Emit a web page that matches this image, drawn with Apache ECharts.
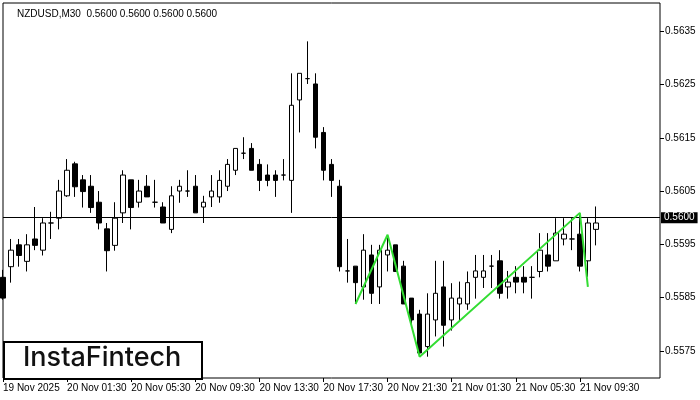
<!DOCTYPE html>
<html>
<head>
<meta charset="utf-8">
<script src="https://cdn.jsdelivr.net/npm/echarts@6/dist/echarts.min.js"></script>
<style>html,body{margin:0;padding:0;background:#fff;}#c{width:700px;height:400px;}</style>
</head>
<body>
<div id="c"></div>
<script>
// 30-minute bars starting 19 Nov 21:30
const opens  = [0.55888,0.55908,0.55949,0.55918,0.55960,0.55939,0.55990,0.55999,0.56041,0.56101,
                0.56071,0.56059,0.56029,0.55979,0.55948,0.56009,0.56071,0.56029,0.56059,0.56029,
                0.56020,0.55978,0.56050,0.56050,0.56059,0.56020,0.56039,0.56039,0.56059,0.56089,
                0.56121,0.56130,0.56100,0.56080,0.56080,0.56080,0.56070,0.56221,0.56261,0.56251,
                0.56160,0.56100,0.56059,0.55900,0.55909,0.55870,0.55930,0.55870,0.55930,0.55949,
                0.55909,0.55849,0.55819,0.55758,0.55808,0.55870,0.55808,0.55838,0.55838,0.55888,
                0.55888,0.55909,0.55919,0.55870,0.55888,0.55888,0.55888,0.55899,0.55930,0.55919,
                0.55960,0.55960,0.55969,0.55919,0.55978];
const closes = [0.55849,0.55939,0.55929,0.55949,0.55948,0.55990,0.55990,0.56050,0.56089,0.56058,
                0.56049,0.56019,0.55990,0.55938,0.55999,0.56080,0.56019,0.56050,0.56039,0.56029,
                0.55990,0.56041,0.56059,0.56050,0.56009,0.56029,0.56050,0.56070,0.56100,0.56130,
                0.56121,0.56089,0.56070,0.56070,0.56070,0.56080,0.56211,0.56271,0.56261,0.56151,
                0.56089,0.56070,0.55908,0.55900,0.55878,0.55939,0.55858,0.55939,0.55939,0.55899,
                0.55838,0.55808,0.55746,0.55819,0.55858,0.55798,0.55849,0.55849,0.55878,0.55900,
                0.55900,0.55909,0.55858,0.55879,0.55879,0.55879,0.55888,0.55939,0.55909,0.55971,
                0.55969,0.55960,0.55909,0.55990,0.55990];
const lows   = [0.55846,0.55878,0.55908,0.55899,0.55939,0.55929,0.55960,0.55978,0.56039,0.56039,
                0.56019,0.56009,0.55978,0.55899,0.55938,0.55990,0.55978,0.56019,0.56039,0.56019,
                0.55990,0.55971,0.56028,0.56039,0.56009,0.55990,0.56020,0.56028,0.56050,0.56080,
                0.56110,0.56089,0.56050,0.56059,0.56039,0.56070,0.56009,0.56160,0.56251,0.56130,
                0.56070,0.56039,0.55899,0.55878,0.55838,0.55846,0.55838,0.55838,0.55899,0.55899,
                0.55838,0.55800,0.55739,0.55739,0.55777,0.55758,0.55788,0.55808,0.55827,0.55848,
                0.55868,0.55868,0.55848,0.55848,0.55858,0.55858,0.55848,0.55888,0.55899,0.55919,
                0.55948,0.55939,0.55899,0.55889,0.55948];
const highs  = [0.55902,0.55960,0.55960,0.55969,0.56020,0.55999,0.56011,0.56071,0.56110,0.56105,
                0.56080,0.56080,0.56050,0.55990,0.56029,0.56089,0.56071,0.56071,0.56080,0.56071,
                0.56029,0.56059,0.56071,0.56089,0.56080,0.56041,0.56080,0.56089,0.56110,0.56130,
                0.56151,0.56140,0.56110,0.56100,0.56089,0.56110,0.56271,0.56271,0.56331,0.56271,
                0.56170,0.56110,0.56071,0.55960,0.55909,0.55969,0.55949,0.55949,0.55966,0.55949,
                0.55919,0.55849,0.55827,0.55858,0.55919,0.55919,0.55877,0.55880,0.55899,0.55930,
                0.55930,0.55930,0.55939,0.55900,0.55909,0.55909,0.55909,0.55971,0.55971,0.55999,
                0.55999,0.55999,0.56008,0.55999,0.56021];
const patternIdx = [44, 48, 52, 72, 73];
const patternVal = [0.55838, 0.55968, 0.55739, 0.56009, 0.55870];
const yTicks = [0.5575, 0.5585, 0.5595, 0.5605, 0.5615, 0.5625, 0.5635];
const tickLabels = ["19 Nov 2025","20 Nov 01:30","20 Nov 05:30","20 Nov 09:30","20 Nov 13:30",
                    "20 Nov 17:30","20 Nov 21:30","21 Nov 01:30","21 Nov 05:30","21 Nov 09:30"];
const currentPrice = 0.5600;
const titleText = "NZDUSD,M30  0.5600 0.5600 0.5600 0.5600";
const slotCount = 83;

const categories = [];
const start = Date.UTC(2025, 10, 19, 21, 30);
for (let i = 0; i < slotCount; i++) {
  const d = new Date(start + i * 30 * 60000);
  const p = n => String(n).padStart(2, '0');
  categories.push(d.getUTCDate() + ' Nov ' + p(d.getUTCHours()) + ':' + p(d.getUTCMinutes()));
}
const candles = opens.map((o, i) => [o, closes[i], lows[i], highs[i]]);
const pattern = patternIdx.map((k, i) => [k, patternVal[i]]);
const showTick = (i) => i % 8 === 0 && i / 8 < tickLabels.length;

const chart = echarts.init(document.getElementById('c'), null, {renderer: 'canvas'});
chart.setOption({
  animation: false,
  backgroundColor: '#fff',
  grid: {left: 3, top: 3, right: 40, bottom: 22, show: true, borderColor: '#000', borderWidth: 1, backgroundColor: 'transparent'},
  xAxis: {
    type: 'category', data: categories, boundaryGap: false,
    axisLine: {show: false},
    axisTick: {show: true, interval: showTick, length: 4, lineStyle: {color: '#000'}},
    axisLabel: {
      interval: showTick, align: 'left', margin: 5, color: '#000',
      fontFamily: 'Liberation Sans', fontSize: 10,
      formatter: (v, i) => tickLabels[i / 8]
    },
    splitLine: {show: false}
  },
  yAxis: {
    type: 'value', position: 'right', min: 0.55699, max: 0.56403, scale: true,
    axisLine: {show: false},
    axisTick: {show: true, customValues: yTicks, length: 4, lineStyle: {color: '#000'}},
    axisLabel: {customValues: yTicks, margin: 5, color: '#000', fontFamily: 'Liberation Sans', fontSize: 10,
      formatter: v => v.toFixed(4)},
    splitLine: {show: false}
  },
  series: [
    {
      type: 'candlestick', data: candles, barWidth: 5,
      itemStyle: {color: '#fff', color0: '#000', borderColor: '#000', borderColor0: '#000', borderWidth: 1},
      markLine: {
        silent: true, symbol: ['none', 'none'],
        lineStyle: {color: '#000', width: 1, type: 'solid'},
        label: {show: true, position: 'end', distance: 1, formatter: currentPrice.toFixed(4),
          color: '#fff', backgroundColor: '#000', padding: [1, 3, 0, 3],
          fontFamily: 'Liberation Sans', fontSize: 10},
        data: [{yAxis: currentPrice}]
      }
    },
    {
      type: 'line', data: pattern, symbol: 'none', z: 5,
      lineStyle: {color: '#33dd33', width: 2}
    }
  ],
  graphic: [
    {type: 'text', left: 17, top: 9, z: 10,
      style: {text: titleText, fill: '#000', font: '10px "Liberation Sans"'}},
    {type: 'rect', left: 3, top: 341, z: 10,
      shape: {width: 198, height: 37},
      style: {fill: '#fff', stroke: '#000', lineWidth: 2}},
    {type: 'text', left: 23, top: 344, z: 11,
      style: {text: 'InstaFintech', fill: '#111', font: '500 27px Inter'}}
  ]
});
</script>
</body>
</html>
